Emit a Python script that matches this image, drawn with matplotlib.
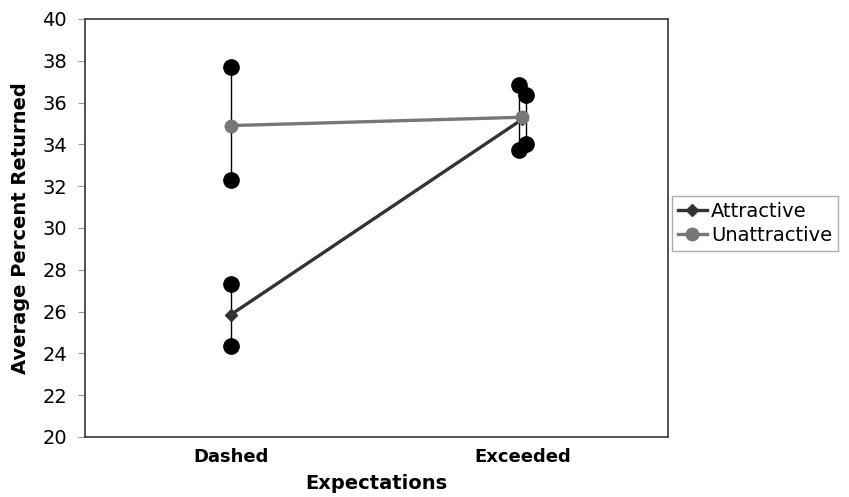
import matplotlib
matplotlib.use("Agg")
from matplotlib import pyplot as plt

plt.rcParams['font.family'] = ['DejaVu Sans']

categories = ["Dashed", "Exceeded"]
attractive = [25.85, 35.2]
unattractive = [34.9, 35.3]
# error bar ends (low, high)
attr_low = [24.35, 34.02]
attr_high = [27.33, 36.38]
unattr_low = [32.28, 33.75]
unattr_high = [37.72, 36.85]
# small horizontal shift of the error bars per category
attr_shift = [0.0, 0.012]
unattr_shift = [0.0, -0.012]

fig = plt.figure(figsize=(8.49, 4.97), dpi=100)
ax = fig.add_axes([85/849, 1 - 437/497, 583/849, 418/497])

x = list(range(len(categories)))

def draw_bars(lows, highs, shifts):
    for i in x:
        xi = i + shifts[i]
        ax.plot([xi, xi], [lows[i], highs[i]], color='black', lw=1, zorder=2)
        ax.plot([xi, xi], [lows[i], highs[i]], ls='none', marker='o',
                ms=11, color='black', zorder=4)

draw_bars(unattr_low, unattr_high, unattr_shift)
draw_bars(attr_low, attr_high, attr_shift)

ax.plot(x, attractive, color='#333333', lw=2.4, marker='D', ms=6,
        label='Attractive', zorder=3)
ax.plot(x, unattractive, color='#777777', lw=2.4, marker='o', ms=9,
        label='Unattractive', zorder=3)

ax.set_xlim(-0.5, 1.5)
ax.set_ylim(20, 40)
ax.set_yticks(range(20, 41, 2))
ax.set_xticks(x)
ax.set_xticklabels(categories, fontsize=13, fontweight='bold')
ax.tick_params(axis='x', length=0, pad=8)
ax.tick_params(axis='y', length=5, color='#999999', labelsize=14, pad=8)
for s in ax.spines.values():
    s.set_color('#444444')
    s.set_linewidth(1.3)

ax.set_ylabel('Average Percent Returned', fontsize=14, fontweight='bold', labelpad=9)
ax.set_xlabel('Expectations', fontsize=14, fontweight='bold', labelpad=6)

leg = fig.legend(loc='upper left', bbox_to_anchor=(672/849, 1 - 196/497),
                 fontsize=14, frameon=True, fancybox=False, borderpad=0.3,
                 handlelength=1.5, handletextpad=0.2, borderaxespad=0,
                 labelspacing=0.25)
leg.get_frame().set_edgecolor('#999999')
leg.get_frame().set_linewidth(1)

fig.savefig('out.png', dpi=100)
